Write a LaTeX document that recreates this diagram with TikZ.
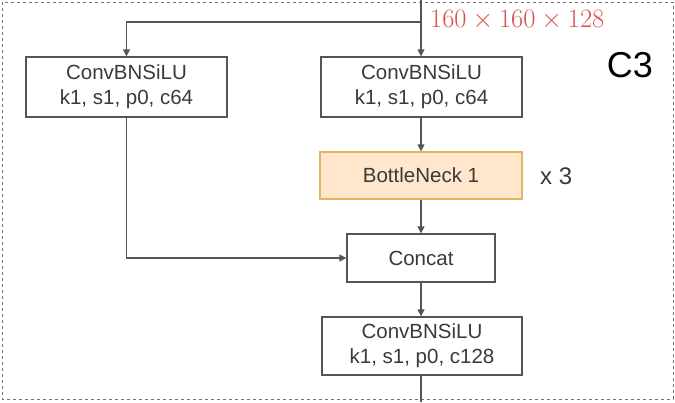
\RequirePackage{fix-cm}
\documentclass[tikz,border=0pt]{standalone}
\usepackage{fontspec}
\setmainfont{Liberation Sans}
\usetikzlibrary{arrows.meta}
\definecolor{txt}{HTML}{3A3A3A}
\definecolor{edge}{HTML}{555555}
\definecolor{bnfill}{HTML}{FFE6CC}
\definecolor{bndraw}{HTML}{E3B464}
\definecolor{dimred}{HTML}{D9534F}
\tikzset{
  blk/.style={draw=edge, line width=1.3pt, fill=white, text=txt, align=center, inner sep=0pt,
    font=\fontsize{20.5}{25}\selectfont},
  arr/.style={draw=edge, line width=1.3pt, -{Triangle[width=7pt,length=7pt]}},
  ln/.style={draw=edge, line width=1.3pt}
}
\begin{document}
\begin{tikzpicture}[x=1pt,y=-1pt]
\useasboundingbox (0,0) rectangle (675,402);
\draw[black!55, line width=1pt, dash pattern=on 3pt off 3pt] (2,2) rectangle (673,399);

\node[blk, minimum width=201pt, minimum height=60pt] (conv1) at (126.5,87) {ConvBNSiLU\\k1, s1, p0, c64};
\node[blk, minimum width=201pt, minimum height=60pt] (conv2) at (421.5,87) {ConvBNSiLU\\k1, s1, p0, c64};
\node[blk, draw=bndraw, fill=bnfill, minimum width=202pt, minimum height=47pt] (bn) at (421,175.5) {BottleNeck 1};
\node[blk, minimum width=148pt, minimum height=48pt] (concat) at (421,258) {Concat};
\node[blk, minimum width=200pt, minimum height=58pt] (conv3) at (422,346) {ConvBNSiLU\\k1, s1, p0, c128};

\coordinate (in) at (421,0);
\coordinate (split) at (421,22);
\coordinate (out) at (421,402);

\draw[arr] (in) -- (conv2.north -| in);
\draw[arr] (split) -| (conv1.north);
\draw[arr] (conv2.south -| in) -- (bn.north -| in);
\draw[arr] (bn.south -| in) -- (concat.north -| in);
\draw[arr] (conv1.south) |- (concat.west);
\draw[arr] (concat.south -| in) -- (conv3.north -| in);
\draw[ln] (conv3.south -| in) -- (out);

\node[text=dimred, anchor=west, inner sep=0pt, font=\fontsize{26.5}{28}\selectfont] (dim) at (430,20) {$160\times160\times128$};
\node[text=black, inner sep=0pt, font=\fontsize{36}{40}\selectfont] (c3) at (630,65) {C3};
\node[text=txt, anchor=west, inner sep=0pt, font=\fontsize{24}{26}\selectfont] (rep) at (540,176) {x 3};
\end{tikzpicture}
\end{document}
